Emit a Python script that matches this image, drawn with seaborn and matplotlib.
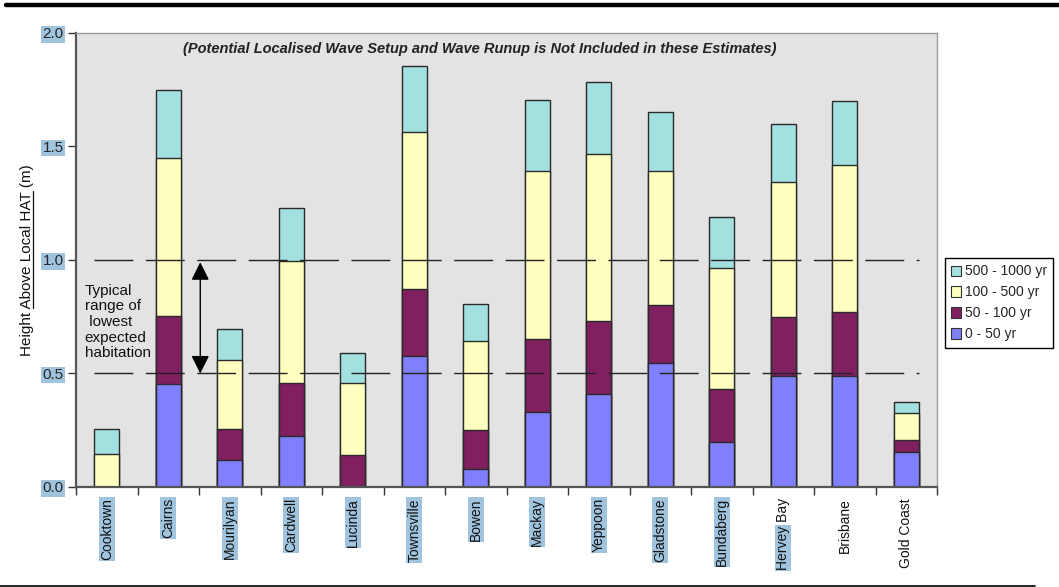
import matplotlib
matplotlib.use("Agg")
import matplotlib.pyplot as plt
from matplotlib.lines import Line2D
from matplotlib.patches import Rectangle
from matplotlib.transforms import IdentityTransform
import numpy as np
import pandas as pd
import seaborn as sns

# Storm tide level (m above local HAT) reached at each return-period band
sites = ["Cooktown", "Cairns", "Mourilyan", "Cardwell", "Lucinda", "Townsville",
         "Bowen", "Mackay", "Yeppoon", "Gladstone", "Bundaberg", "Hervey Bay",
         "Brisbane", "Gold Coast"]
level_500_1000 = [0.255, 1.75, 0.697, 1.228, 0.591, 1.856, 0.806, 1.706, 1.785, 1.651, 1.19, 1.601, 1.70, 0.375]
level_100_500 = [0.145, 1.45, 0.56, 0.994, 0.456, 1.565, 0.641, 1.39, 1.469, 1.394, 0.963, 1.343, 1.419, 0.326]
level_50_100 = [0.0, 0.752, 0.255, 0.456, 0.14, 0.874, 0.25, 0.651, 0.731, 0.801, 0.431, 0.747, 0.772, 0.205]
level_0_50 = [0.0, 0.452, 0.119, 0.224, 0.004, 0.575, 0.078, 0.331, 0.41, 0.544, 0.2, 0.491, 0.491, 0.154]
periods = ["500 - 1000 yr", "100 - 500 yr", "50 - 100 yr", "0 - 50 yr"]
period_colors = ["#A3E0E0", "#FFFFC0", "#802060", "#8080FF"]
habitation_range = [0.5, 1.0]
y_ticks = [0.0, 0.5, 1.0, 1.5, 2.0]
highlighted_sites = ["Cooktown", "Cairns", "Mourilyan", "Cardwell", "Lucinda", "Townsville",
                     "Bowen", "Mackay", "Yeppoon", "Gladstone", "Bundaberg"]

rows = []
for period, levels in zip(periods, [level_500_1000, level_100_500, level_50_100, level_0_50]):
    for site, v in zip(sites, levels):
        if v > 0:
            rows.append({"site": site, "period": period, "level": v})
df = pd.DataFrame(rows)

sns.set_style("white")
plt.rcParams["font.family"] = ["Liberation Sans", "DejaVu Sans"]

HL = "#A0C4DE"

fig = plt.figure(figsize=(10.59, 5.87), dpi=100)
ax = fig.add_axes([0.0718, 0.1704, 0.8130, 0.7734])
ax.set_facecolor("#E3E3E3")

# Bars are overlaid (tallest band first) so each band shows as a stacked segment
sns.barplot(data=df, x="site", y="level", hue="period", order=sites,
            hue_order=periods, palette=period_colors, saturation=1, dodge=False,
            width=0.4, errorbar=None, edgecolor="#2A2A2A", linewidth=1.0, ax=ax,
            zorder=2)

ax.set_ylim(0, 2.0)
ax.set_xlim(-0.5, len(sites) - 0.5)

# Typical habitation band
for yv in habitation_range:
    ax.plot([-0.2, 13.2], [yv, yv], color="#222222", lw=1.0,
            dashes=(28, 9), zorder=5)

ax.annotate("", xy=(1.52, habitation_range[1] - 0.01), xytext=(1.52, habitation_range[0]),
            arrowprops=dict(arrowstyle="<|-|>,head_length=1.1,head_width=0.55",
                            color="black", lw=1.0, shrinkA=0, shrinkB=0), zorder=6)
ax.text(-0.36, 0.727, "Typical\nrange of\n lowest\nexpected\nhabitation",
        fontsize=11, ha="left", va="center", linespacing=1.15, color="#111111",
        zorder=6)

ax.text(0.469, 0.965,
        "(Potential Localised Wave Setup and Wave Runup is Not Included in these Estimates)",
        transform=ax.transAxes, ha="center", va="center", fontsize=10.5,
        fontweight="bold", fontstyle="italic", color="#222222")

# Ticks: boundaries get marks, centres carry the names
ax.set_xticks(np.arange(-0.5, len(sites)), labels=[""] * (len(sites) + 1))
ax.set_xticks(np.arange(len(sites)), labels=sites, minor=True)
ax.tick_params(axis="x", which="major", direction="out", length=6, width=1,
               color="#333333", bottom=True)
ax.tick_params(axis="x", which="minor", length=0, pad=8, labelsize=10,
               labelrotation=90, bottom=True)
ax.set_yticks(y_ticks, labels=[f"{t:.1f}" for t in y_ticks])
ax.tick_params(axis="y", direction="out", length=6, width=1, color="#333333",
               labelsize=11, pad=3, left=True)
for lab in ax.get_yticklabels():
    lab.set_bbox(dict(facecolor=HL, edgecolor="none", pad=1.0))
for lab in ax.get_xticklabels(minor=True):
    lab.set_color("#111111")
    if lab.get_text() in highlighted_sites:
        lab.set_bbox(dict(facecolor=HL, edgecolor="none", pad=0.8))

ax.set_xlabel("")
ax.set_ylabel("Height Above Local HAT (m)", fontsize=11, labelpad=6, color="#111111")

for side in ["left", "bottom"]:
    ax.spines[side].set_color("#555555")
    ax.spines[side].set_linewidth(1.6)
for side in ["top", "right"]:
    ax.spines[side].set_visible(True)
    ax.spines[side].set_color("#9A9A9A")
    ax.spines[side].set_linewidth(1.0)

handles, labels = ax.get_legend_handles_labels()
leg = ax.legend(handles, labels, loc="center left", bbox_to_anchor=(0.892, 0.484),
                bbox_transform=fig.transFigure, frameon=True, fancybox=False,
                edgecolor="black", facecolor="white", framealpha=1, fontsize=10,
                handlelength=0.75, handleheight=0.75, handletextpad=0.25,
                labelspacing=0.5, borderpad=0.45, borderaxespad=0)
leg.get_frame().set_linewidth(1.0)
for h in leg.legend_handles:
    h.set_edgecolor("#333333")
    h.set_linewidth(0.8)

# Page rules above and below the chart
fig.add_artist(Line2D([0.006, 1.0], [0.9915, 0.9915], transform=fig.transFigure,
                      color="black", lw=3.2))
fig.add_artist(Line2D([0.0, 0.977], [0.0025, 0.0025], transform=fig.transFigure,
                      color="black", lw=1.2))

fig.canvas.draw()
renderer = fig.canvas.get_renderer()

# Underline the "Above Local HAT" part of the y label
ylab = ax.yaxis.label
bb = ylab.get_window_extent(renderer)
tmp_full = fig.text(0, 0, "Height Above Local HAT", fontsize=11)
tmp_part = fig.text(0, 0, "Above Local HAT", fontsize=11)
w_full = tmp_full.get_window_extent(renderer).width
w_part = tmp_part.get_window_extent(renderer).width
tmp_full.remove()
tmp_part.remove()
ux = bb.x1 - 1.5
fig.add_artist(Line2D([ux, ux], [bb.y0 + w_full - w_part, bb.y0 + w_full],
                      transform=IdentityTransform(), color="#111111", lw=0.9))

# Partial highlight behind the "Hervey" word
for lab in ax.get_xticklabels(minor=True):
    if lab.get_text() == "Hervey Bay":
        lb = lab.get_window_extent(renderer)
        tmp = fig.text(0, 0, "Hervey", fontsize=10)
        w_word = tmp.get_window_extent(renderer).width
        tmp.remove()
        fig.add_artist(Rectangle((lb.x0 - 1, lb.y0 - 1), lb.width + 2, w_word + 2,
                                 transform=IdentityTransform(), facecolor=HL,
                                 edgecolor="none", zorder=-1))

fig.savefig("out.png", dpi=100, facecolor="white")
